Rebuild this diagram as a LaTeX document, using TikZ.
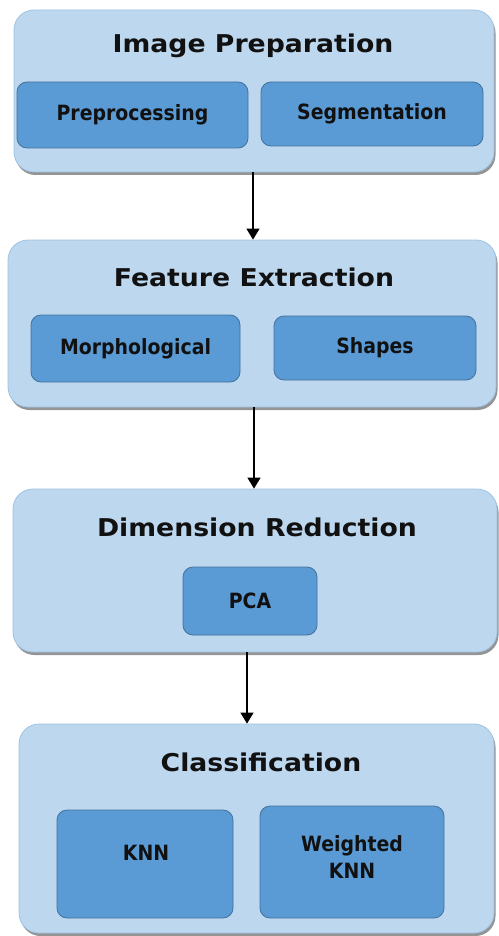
\documentclass[tikz,border=0pt]{standalone}
\usepackage{fontspec}
\setmainfont{DejaVu Sans}
\usetikzlibrary{shadows,arrows.meta}
\definecolor{outerfill}{HTML}{BDD7EE}
\definecolor{outerdraw}{HTML}{9DC3E6}
\definecolor{innerfill}{HTML}{5B9BD5}
\definecolor{innerdraw}{HTML}{41719C}
\definecolor{txt}{HTML}{111111}
\tikzset{
  outerbox/.style={draw=outerdraw, line width=0.8pt, fill=outerfill, rounded corners=20pt,
    drop shadow={shadow xshift=1.5pt, shadow yshift=-3pt, fill=black!70, opacity=0.6}},
  innerbox/.style={draw=innerdraw, line width=0.8pt, fill=innerfill, rounded corners=10pt},
  ttl/.style={text=txt, font=\fontsize{24.5}{28}\selectfont\bfseries, inner sep=0pt},
  itxt/.style={text=txt, font=\fontsize{21}{27}\selectfont\bfseries, inner sep=0pt, align=center},
  flow/.style={draw=black, line width=1.3pt, -{Triangle[width=13pt,length=11pt]}}
}
\begin{document}
\begin{tikzpicture}[x=1pt,y=-1pt]
\useasboundingbox (0,0) rectangle (498,936);
% Box 1
\node[outerbox, minimum width=480pt, minimum height=162pt] (b1) at (254,91) {};
\node[ttl] (t1) at (253,46) {\scalebox{1.09}[1]{Image Preparation}};
\node[innerbox, minimum width=231pt, minimum height=66pt] (pre) at (132.5,115) {};
\node[itxt] (pret) at (pre) {\scalebox{0.9}[1]{Preprocessing}};
\node[innerbox, minimum width=222pt, minimum height=64pt] (seg) at (372,114) {};
\node[itxt] (segt) at (seg) {\scalebox{0.9}[1]{Segmentation}};
% Box 2
\node[outerbox, minimum width=488pt, minimum height=167pt] (b2) at (252,323.5) {};
\node[ttl] (t2) at (254,277) {\scalebox{1.09}[1]{Feature Extraction}};
\node[innerbox, minimum width=209pt, minimum height=67pt] (mor) at (135.5,348.5) {};
\node[itxt] (mort) at (mor) {\scalebox{0.9}[1]{Morphological}};
\node[innerbox, minimum width=202pt, minimum height=64pt] (shp) at (375,348) {};
\node[itxt] (shpt) at (shp) {\scalebox{0.9}[1]{Shapes}};
% Box 3
\node[outerbox, minimum width=484pt, minimum height=163pt] (b3) at (255,570.5) {};
\node[ttl] (t3) at (257,527) {\scalebox{1.09}[1]{Dimension Reduction}};
\node[innerbox, minimum width=134pt, minimum height=68pt] (pca) at (250,601) {};
\node[itxt] (pcat) at (pca) {\scalebox{0.9}[1]{PCA}};
% Box 4
\node[outerbox, minimum width=475pt, minimum height=209pt] (b4) at (256.5,828.5) {};
\node[ttl] (t4) at (261,762) {\scalebox{1.09}[1]{Classification}};
\node[innerbox, minimum width=176pt, minimum height=108pt] (knn) at (145,864) {};
\node[itxt] (knnt) at (146,853) {\scalebox{0.9}[1]{KNN}};
\node[innerbox, minimum width=184pt, minimum height=112pt] (wknn) at (352,862) {};
\node[itxt] (wknnt) at (352,857) {\scalebox{0.9}[1]{Weighted}\\\scalebox{0.9}[1]{KNN}};
% Arrows
\coordinate (a1) at (253,0);
\coordinate (a2) at (254,0);
\coordinate (a3) at (247,0);
\draw[flow] (b1.south -| a1) -- (b2.north -| a1);
\draw[flow] (b2.south -| a2) -- (b3.north -| a2);
\draw[flow] (b3.south -| a3) -- (b4.north -| a3);
\end{tikzpicture}
\end{document}
